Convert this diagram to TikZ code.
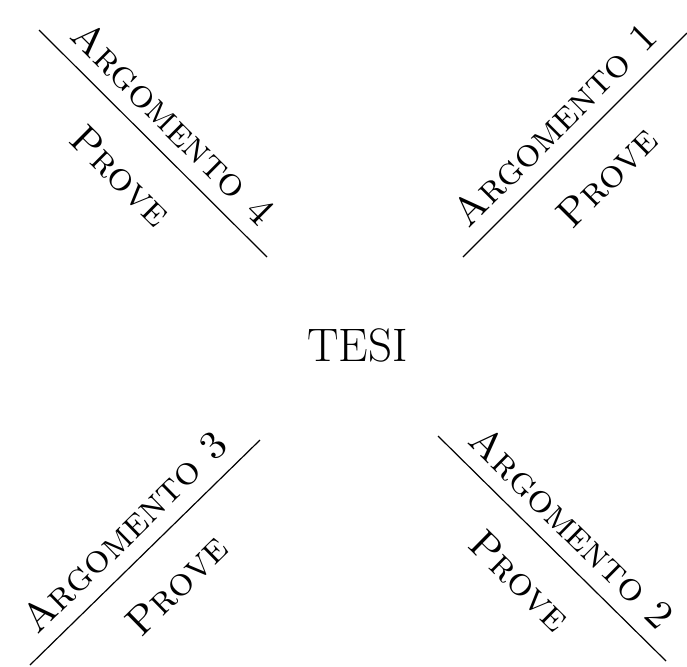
\documentclass[tikz,border=0pt]{standalone}
\begin{document}
\begin{tikzpicture}[x=0.5pt,y=-0.5pt,
  every text node part/.style={align=center},
  arg/.style={sloped,inner sep=0pt,font=\fontsize{20}{23}\selectfont\scshape},
  tesi/.style={inner sep=0pt,font=\fontsize{23.5}{26}\selectfont}]

\useasboundingbox(0,0)rectangle(687,666);

\node[tesi](tesi)at(357.5,345.5){TESI};

% argomento 4 (top left)
\coordinate(a4s)at(39,30);
\coordinate(a4e)at(267,257);
\draw[line width=0.6pt](a4s)--(a4e)
  node[arg,midway,above=7pt](arg4){Argomento 4}
  node[arg,midway,below=15.5pt](prove4){Prove};

% argomento 1 (top right)
\coordinate(a1s)at(463,257);
\coordinate(a1e)at(687,33);
\draw[line width=0.6pt](a1s)--(a1e)
  node[arg,midway,above=7pt](arg1){Argomento 1}
  node[arg,midway,below=15.5pt](prove1){Prove};

% argomento 3 (bottom left)
\coordinate(a3s)at(30,665);
\coordinate(a3e)at(260,440);
\draw[line width=0.6pt](a3s)--(a3e)
  node[arg,midway,above=7pt](arg3){Argomento 3}
  node[arg,midway,below=15.5pt](prove3){Prove};

% argomento 2 (bottom right)
\coordinate(a2s)at(438,436);
\coordinate(a2e)at(666,661);
\draw[line width=0.6pt](a2s)--(a2e)
  node[arg,midway,above=7pt](arg2){Argomento 2}
  node[arg,midway,below=15.5pt](prove2){Prove};

\end{tikzpicture}
\end{document}
